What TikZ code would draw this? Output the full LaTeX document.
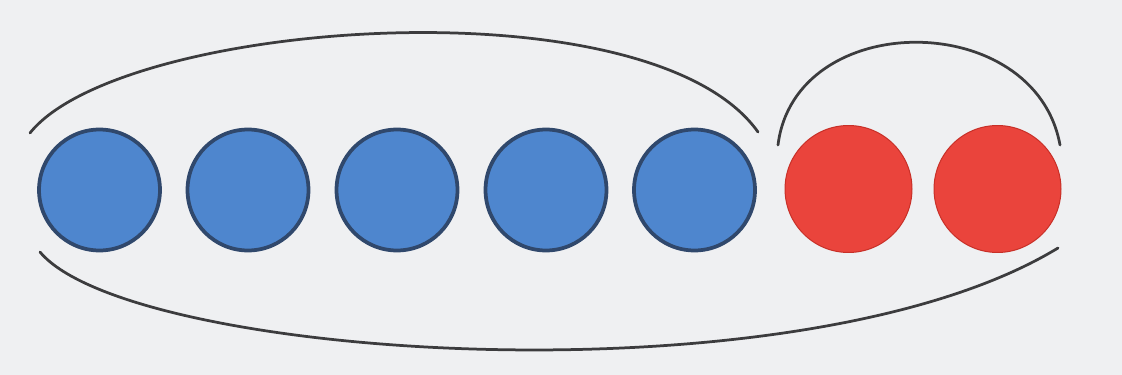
\documentclass[tikz,border=0pt]{standalone}
\usepackage{tikz}
\usetikzlibrary{positioning}
\definecolor{bgpaper}{RGB}{239,240,242}
\definecolor{beadblue}{RGB}{78,134,206}
\definecolor{beadedge}{RGB}{48,72,108}
\definecolor{beadred}{RGB}{234,68,60}
\definecolor{rededge}{RGB}{200,48,40}
\definecolor{pencil}{RGB}{60,60,62}

\begin{document}
\begin{tikzpicture}[
    x=0.02cm, y=-0.02cm,
    blue bead/.style={circle, fill=beadblue, draw=beadedge, line width=0.075cm,
                      minimum size=2.42cm, inner sep=0pt},
    red bead/.style={circle, fill=beadred, draw=rededge, line width=0.02cm,
                     minimum size=2.54cm, inner sep=0pt},
    group line/.style={draw=pencil, line width=0.055cm, line cap=round}
  ]
    % Paper
    \fill[bgpaper] (0,0) rectangle (1122,375);
    \useasboundingbox (0,0) rectangle (1122,375);

    % Blue beads
    \node[blue bead] (b1) at (99.5,190) {};
    \node[blue bead] (b2) at (248,190) {};
    \node[blue bead] (b3) at (397,190) {};
    \node[blue bead] (b4) at (546,190) {};
    \node[blue bead] (b5) at (694.5,190) {};

    % Red beads
    \node[red bead] (r1) at (848.5,189) {};
    \node[red bead] (r2) at (997.5,189) {};

    % Arc over the blue beads
    \draw[group line] (30,133) .. controls (120,20) and (650,-20) .. (758,132);

    % Arc over the red beads
    \draw[group line] (778,145) .. controls (795,8) and (1035,8) .. (1060,145);

    % Arc under all beads
    \draw[group line] (40,252) .. controls (130,360) and (800,405) .. (1058,248);
  \end{tikzpicture}
\end{document}
